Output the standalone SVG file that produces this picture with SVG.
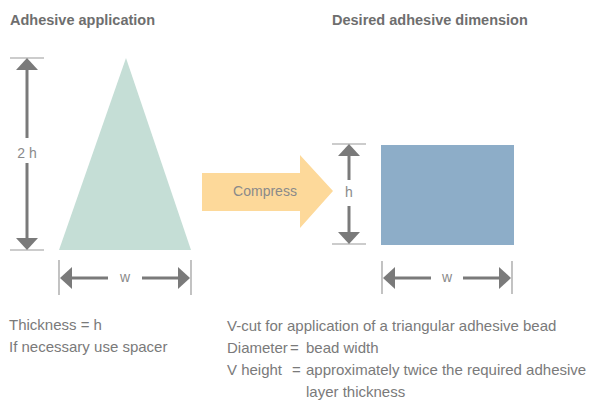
<svg xmlns="http://www.w3.org/2000/svg" width="596" height="403" viewBox="0 0 596 403">
<style>
.hdr{font-family:"Liberation Sans",Arial,sans-serif;font-weight:bold;font-size:14.5px;fill:#6e6e6e}
.txt{font-family:"Liberation Sans",Arial,sans-serif;font-size:15px;fill:#7a7a7a}
.lbl{font-family:"Liberation Sans",Arial,sans-serif;font-size:14px;fill:#8a8a8a}
.tick{stroke:#9a9a9a;stroke-width:1.2;fill:none}
.dim{stroke:#7a7a7a;stroke-width:3;fill:none}
.head{fill:#7a7a7a}
</style>
<rect width="596" height="403" fill="#ffffff"/>
<text class="hdr" x="10" y="25">Adhesive application</text>
<text class="hdr" x="332" y="25">Desired adhesive dimension</text>

<g id="triangle"><polygon points="126,58 59,250 191,250" fill="#c5ded6"/></g>
<g id="compress">
<polygon points="202,173 300,173 300,155 333,191 300,228 300,211 202,211" fill="#fdd99a"/>
<text class="lbl" x="265" y="196" text-anchor="middle">Compress</text>
</g>
<g id="rectangle"><rect x="381" y="145" width="133" height="100" fill="#8dadc8"/></g>

<g id="connectors">
<line class="tick" x1="10" y1="58" x2="44" y2="58"/>
<line class="tick" x1="10" y1="250" x2="44" y2="250"/>
<line class="dim" x1="27" y1="68" x2="27" y2="138"/>
<line class="dim" x1="27" y1="163" x2="27" y2="240"/>
<polygon class="head" points="27,58 16,70 38,70"/>
<polygon class="head" points="27,250 16,238 38,238"/>
<text class="lbl" x="27" y="158" text-anchor="middle">2 h</text>
<line class="tick" x1="59" y1="260" x2="59" y2="295"/>
<line class="tick" x1="191" y1="260" x2="191" y2="295"/>
<line class="dim" x1="70" y1="278" x2="108" y2="278"/>
<line class="dim" x1="142" y1="278" x2="180" y2="278"/>
<polygon class="head" points="60,278 72,267 72,289"/>
<polygon class="head" points="190,278 178,267 178,289"/>
<text class="lbl" x="125" y="282" text-anchor="middle">w</text>
<line class="tick" x1="332" y1="144" x2="366" y2="144"/>
<line class="tick" x1="332" y1="244" x2="366" y2="244"/>
<line class="dim" x1="349" y1="154" x2="349" y2="180"/>
<line class="dim" x1="349" y1="206" x2="349" y2="234"/>
<polygon class="head" points="349,144 338,156 360,156"/>
<polygon class="head" points="349,244 338,232 360,232"/>
<text class="lbl" x="349" y="197" text-anchor="middle">h</text>
<line class="tick" x1="382" y1="261" x2="382" y2="294"/>
<line class="tick" x1="512" y1="261" x2="512" y2="294"/>
<line class="dim" x1="392" y1="278" x2="431" y2="278"/>
<line class="dim" x1="463" y1="278" x2="502" y2="278"/>
<polygon class="head" points="383,278 395,267 395,289"/>
<polygon class="head" points="511,278 499,267 499,289"/>
<text class="lbl" x="447" y="282" text-anchor="middle">w</text>
</g>

<text class="txt" x="9" y="330">Thickness = h</text>
<text class="txt" x="9" y="352">If necessary use spacer</text>
<text class="txt" x="227" y="331">V-cut for application of a triangular adhesive bead</text>
<text class="txt" y="353"><tspan x="227">Diameter</tspan><tspan x="290">=</tspan><tspan x="306">bead width</tspan></text>
<text class="txt" y="375"><tspan x="227">V height</tspan><tspan x="292">=</tspan><tspan x="306">approximately twice the required adhesive</tspan></text>
<text class="txt" x="306" y="397">layer thickness</text>
</svg>
